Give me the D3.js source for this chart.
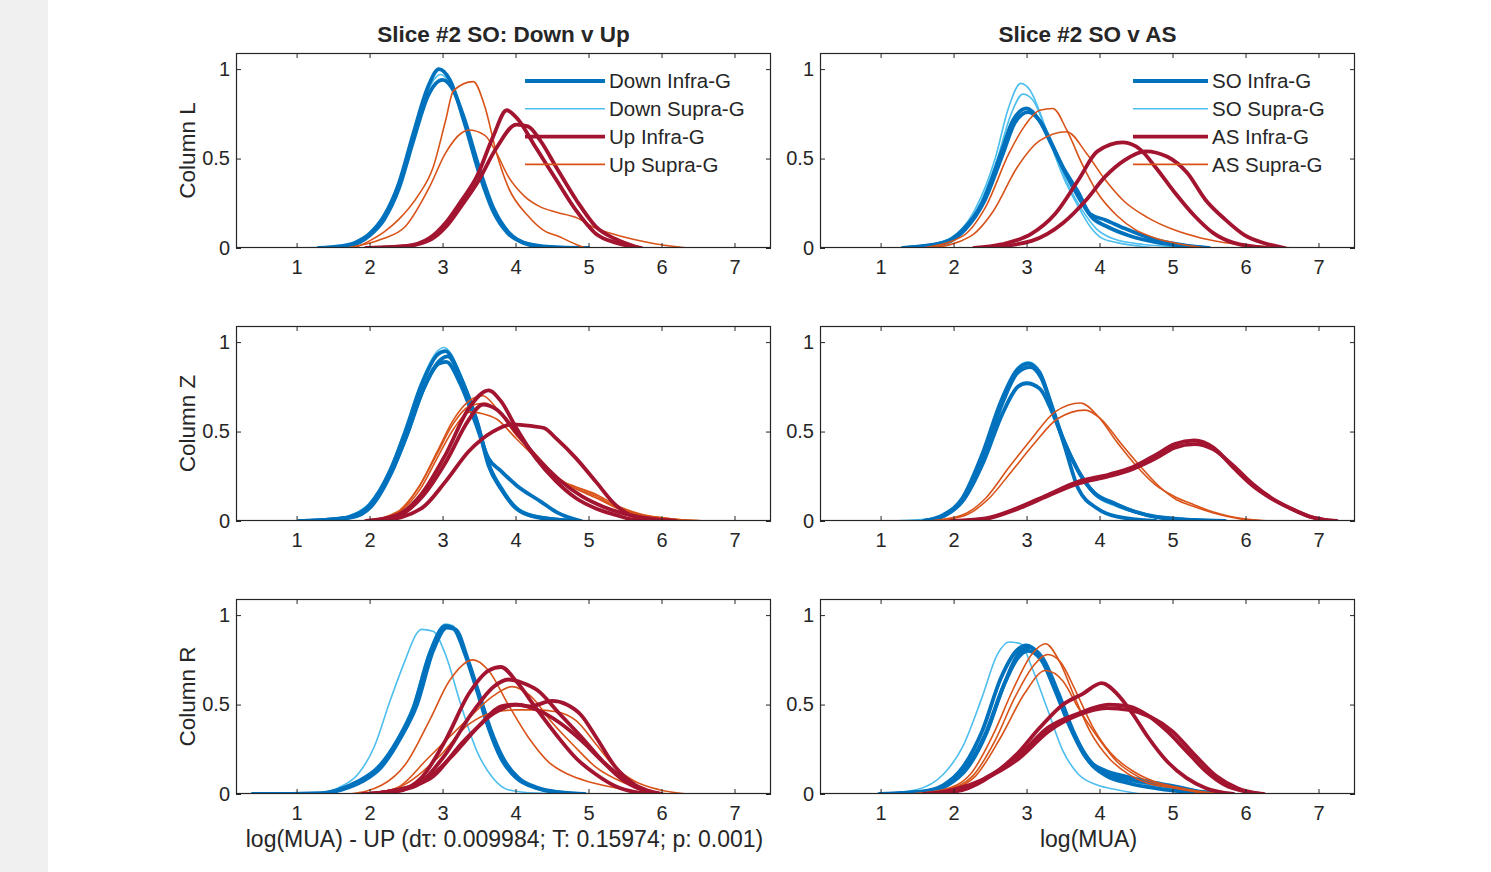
<!DOCTYPE html>
<html><head><meta charset="utf-8">
<script src="https://cdn.jsdelivr.net/npm/d3@7"></script>
<style>body{margin:0;background:#fff}svg{display:block}text{font-family:"Liberation Sans",Arial,sans-serif;fill:#262626}</style>
</head><body><svg id="c" width="1491" height="872"></svg>
<script>
// ---------- data ----------
const colTitles = ["Slice #2 SO: Down v Up", "Slice #2 SO v AS"];
const rowLabels = ["Column L", "Column Z", "Column R"];
const xLabels = ["log(MUA) - UP (d\u03C4: 0.009984; T: 0.15974; p: 0.001)", "log(MUA)"];
const legendLeft = ["Down Infra-G", "Down Supra-G", "Up Infra-G", "Up Supra-G"];
const legendRight = ["SO Infra-G", "SO Supra-G", "AS Infra-G", "AS Supra-G"];
const xTicks = [1, 2, 3, 4, 5, 6, 7];
const yTicks = [0, 0.5, 1];
// group index: 0 = Infra-G (first state), 1 = Supra-G (first), 2 = Infra-G (second), 3 = Supra-G (second)

const panelL_DvU = [
  {g:1, p:[[1.0,0],[1.5,0.005],[1.8,0.03],[2.0,0.08],[2.2,0.17],[2.4,0.35],[2.6,0.63],[2.8,0.88],[2.97,0.97],[3.1,0.92],[3.3,0.69],[3.5,0.42],[3.7,0.2],[3.9,0.08],[4.2,0.02],[4.6,0.004],[5.15,0]]},
  {g:0, p:[[1.3,0],[1.6,0.01],[1.8,0.03],[2.0,0.08],[2.2,0.18],[2.4,0.36],[2.6,0.64],[2.8,0.9],[2.95,1.0],[3.1,0.94],[3.3,0.7],[3.5,0.42],[3.7,0.2],[3.9,0.08],[4.1,0.03],[4.4,0.005],[4.8,0]]},
  {g:0, p:[[1.4,0],[1.7,0.01],[2.0,0.07],[2.2,0.16],[2.4,0.33],[2.6,0.6],[2.8,0.85],[3.0,0.94],[3.15,0.88],[3.3,0.72],[3.5,0.45],[3.7,0.22],[3.9,0.09],[4.2,0.02],[4.6,0.003],[5.0,0]]},
  {g:3, p:[[1.79,0],[2.0,0.04],[2.2,0.09],[2.4,0.16],[2.66,0.29],[2.87,0.45],[3.04,0.71],[3.15,0.88],[3.42,0.93],[3.58,0.79],[3.74,0.53],[3.9,0.34],[4.17,0.18],[4.42,0.09],[4.56,0.07],[4.83,0.02],[4.96,0]]},
  {g:3, p:[[1.68,0],[2.17,0.05],[2.49,0.12],[2.82,0.34],[3.04,0.53],[3.25,0.64],[3.36,0.66],[3.58,0.63],[3.74,0.53],[3.9,0.40],[4.12,0.29],[4.34,0.23],[4.56,0.2],[4.83,0.17],[5.1,0.11],[5.37,0.074],[5.64,0.046],[5.91,0.024],[6.35,0]]},
  {g:2, p:[[1.95,0],[2.49,0.01],[2.82,0.055],[3.04,0.14],[3.25,0.26],[3.47,0.40],[3.69,0.62],[3.88,0.77],[4.01,0.73],[4.28,0.56],[4.56,0.38],[4.83,0.21],[5.1,0.08],[5.37,0.03],[5.72,0]]},
  {g:2, p:[[2.0,0],[2.5,0.01],[2.85,0.05],[3.05,0.12],[3.25,0.23],[3.47,0.36],[3.74,0.56],[4.01,0.69],[4.17,0.68],[4.34,0.6],[4.56,0.45],[4.83,0.27],[5.1,0.12],[5.37,0.05],[5.7,0]]}
];
const panelL_SvA = [
  {g:1, p:[[1.3,0],[1.8,0.03],[2.1,0.1],[2.3,0.22],[2.57,0.5],[2.75,0.78],[2.92,0.92],[3.05,0.88],[3.2,0.74],[3.35,0.56],[3.5,0.4],[3.71,0.23],[3.87,0.12],[4.03,0.055],[4.24,0.03],[4.56,0.01],[4.77,0]]},
  {g:1, p:[[1.3,0],[1.8,0.03],[2.1,0.09],[2.3,0.2],[2.6,0.5],[2.78,0.74],[2.95,0.86],[3.08,0.83],[3.25,0.68],[3.4,0.52],[3.55,0.37],[3.75,0.22],[3.95,0.11],[4.2,0.05],[4.6,0.02],[5.2,0.005],[5.7,0]]},
  {g:0, p:[[1.3,0],[1.86,0.03],[2.12,0.1],[2.39,0.25],[2.65,0.53],[2.81,0.71],[3.0,0.78],[3.18,0.71],[3.34,0.58],[3.5,0.45],[3.71,0.31],[3.87,0.19],[4.08,0.157],[4.34,0.11],[4.77,0.046],[5.08,0.02],[5.45,0]]},
  {g:0, p:[[1.35,0],[1.9,0.03],[2.15,0.1],[2.42,0.26],[2.67,0.52],[2.84,0.7],[3.02,0.76],[3.2,0.7],[3.36,0.57],[3.52,0.43],[3.72,0.28],[3.9,0.17],[4.1,0.12],[4.4,0.07],[4.8,0.03],[5.2,0.01],[5.5,0]]},
  {g:3, p:[[1.57,0],[2.12,0.065],[2.44,0.23],[2.76,0.53],[2.97,0.68],[3.18,0.77],[3.36,0.78],[3.55,0.66],[3.76,0.47],[3.97,0.31],[4.24,0.18],[4.5,0.1],[4.77,0.055],[5.08,0.024],[5.45,0]]},
  {g:3, p:[[1.7,0],[2.23,0.065],[2.55,0.21],[2.87,0.45],[3.18,0.6],[3.55,0.65],[3.82,0.53],[4.08,0.38],[4.34,0.26],[4.66,0.17],[5.03,0.1],[5.4,0.055],[5.83,0.024],[6.67,0]]},
  {g:2, p:[[2.28,0],[2.65,0.02],[3.07,0.08],[3.39,0.19],[3.71,0.38],[3.97,0.54],[4.32,0.59],[4.56,0.55],[4.77,0.45],[5.03,0.31],[5.3,0.18],[5.56,0.083],[5.83,0.03],[6.3,0]]},
  {g:2, p:[[2.44,0],[3.07,0.04],[3.5,0.14],[3.82,0.27],[4.08,0.4],[4.34,0.49],[4.63,0.54],[4.93,0.51],[5.2,0.42],[5.45,0.27],[5.72,0.16],[5.98,0.074],[6.25,0.028],[6.54,0]]}
];
const panelZ_DvU = [
  {g:1, p:[[1.0,0],[1.5,0.01],[1.73,0.03],[2.0,0.1],[2.28,0.29],[2.49,0.52],[2.71,0.78],[2.93,0.95],[3.02,0.97],[3.25,0.82],[3.47,0.57],[3.63,0.33],[3.8,0.2],[4.01,0.08],[4.28,0.03],[4.7,0.005],[5.05,0]]},
  {g:0, p:[[1.03,0],[1.5,0.008],[1.73,0.024],[2.0,0.09],[2.28,0.28],[2.49,0.5],[2.71,0.76],[2.93,0.93],[3.04,0.95],[3.25,0.8],[3.47,0.56],[3.63,0.31],[3.8,0.18],[4.01,0.07],[4.28,0.024],[4.83,0]]},
  {g:0, p:[[1.1,0],[1.73,0.02],[2.0,0.08],[2.28,0.26],[2.5,0.47],[2.72,0.72],[2.95,0.88],[3.05,0.89],[3.25,0.76],[3.45,0.55],[3.63,0.35],[3.8,0.28],[4.01,0.2],[4.34,0.11],[4.56,0.05],[4.9,0]]},
  {g:0, p:[[1.1,0],[1.75,0.02],[2.02,0.08],[2.3,0.27],[2.52,0.49],[2.74,0.74],[2.97,0.9],[3.07,0.92],[3.27,0.78],[3.48,0.54],[3.65,0.3],[3.82,0.17],[4.03,0.065],[4.3,0.02],[4.85,0]]},
  {g:3, p:[[1.95,0],[2.38,0.05],[2.66,0.18],[2.93,0.39],[3.14,0.56],[3.36,0.67],[3.55,0.7],[3.74,0.63],[4.01,0.48],[4.28,0.37],[4.56,0.24],[4.83,0.18],[5.1,0.14],[5.37,0.08],[5.64,0.043],[6.18,0.01],[6.73,0]]},
  {g:3, p:[[2.0,0],[2.4,0.05],[2.68,0.17],[2.95,0.37],[3.16,0.52],[3.38,0.61],[3.55,0.6],[3.74,0.57],[4.01,0.46],[4.28,0.35],[4.56,0.24],[4.83,0.19],[5.1,0.15],[5.37,0.09],[5.7,0.04],[6.2,0.01],[6.6,0]]},
  {g:3, p:[[1.95,0],[2.38,0.05],[2.66,0.18],[2.93,0.38],[3.14,0.54],[3.36,0.64],[3.58,0.66],[3.8,0.6],[4.05,0.47],[4.3,0.36],[4.56,0.25],[4.83,0.18],[5.1,0.13],[5.4,0.07],[5.8,0.025],[6.4,0]]},
  {g:2, p:[[1.95,0],[2.38,0.034],[2.71,0.15],[3.04,0.37],[3.36,0.63],[3.63,0.73],[3.8,0.67],[4.01,0.52],[4.28,0.35],[4.56,0.22],[4.83,0.127],[5.1,0.07],[5.37,0.034],[5.64,0.006],[5.91,0]]},
  {g:2, p:[[2.0,0],[2.4,0.03],[2.73,0.14],[3.06,0.34],[3.35,0.56],[3.55,0.65],[3.75,0.62],[4.0,0.5],[4.3,0.35],[4.6,0.23],[4.9,0.14],[5.2,0.08],[5.5,0.04],[5.9,0.01],[6.2,0]]},
  {g:2, p:[[2.17,0],[2.71,0.07],[3.04,0.22],[3.36,0.39],[3.69,0.5],[3.96,0.54],[4.23,0.53],[4.39,0.52],[4.56,0.46],[4.83,0.35],[5.1,0.22],[5.37,0.09],[5.64,0.024],[6.18,0]]}
];
const panelZ_SvA = [
  {g:1, p:[[1.06,0],[1.6,0.01],[1.86,0.035],[2.12,0.13],[2.39,0.37],[2.65,0.67],[2.86,0.85],[3.02,0.89],[3.18,0.84],[3.34,0.66],[3.5,0.46],[3.71,0.27],[3.92,0.15],[4.24,0.08],[4.5,0.045],[4.77,0.02],[5.3,0.005],[6.1,0]]},
  {g:0, p:[[1.59,0],[1.86,0.034],[2.12,0.127],[2.39,0.37],[2.65,0.67],[2.86,0.84],[3.02,0.88],[3.18,0.83],[3.34,0.65],[3.5,0.46],[3.71,0.28],[3.92,0.16],[4.24,0.09],[4.5,0.05],[4.77,0.024],[5.3,0.006],[5.72,0]]},
  {g:0, p:[[1.6,0],[1.88,0.033],[2.14,0.125],[2.41,0.36],[2.67,0.66],[2.88,0.83],[3.05,0.86],[3.2,0.8],[3.36,0.62],[3.52,0.42],[3.71,0.18],[3.97,0.07],[4.24,0.024],[4.77,0]]},
  {g:0, p:[[1.6,0],[1.88,0.03],[2.14,0.12],[2.41,0.33],[2.67,0.6],[2.88,0.75],[3.0,0.77],[3.18,0.74],[3.36,0.6],[3.52,0.44],[3.72,0.27],[3.92,0.16],[4.2,0.1],[4.5,0.05],[4.8,0.02],[5.5,0]]},
  {g:3, p:[[1.65,0],[2.12,0.034],[2.44,0.127],[2.76,0.3],[3.07,0.46],[3.39,0.61],[3.74,0.66],[3.97,0.59],[4.24,0.44],[4.5,0.31],[4.77,0.2],[5.03,0.136],[5.3,0.09],[5.56,0.05],[5.93,0.015],[6.35,0]]},
  {g:3, p:[[1.7,0],[2.15,0.03],[2.47,0.12],[2.8,0.28],[3.1,0.43],[3.42,0.57],[3.8,0.62],[4.02,0.57],[4.28,0.44],[4.55,0.31],[4.8,0.2],[5.05,0.12],[5.3,0.08],[5.56,0.045],[5.93,0.012],[6.3,0]]},
  {g:2, p:[[1.96,0],[2.44,0.015],[2.86,0.07],[3.29,0.146],[3.71,0.22],[4.13,0.26],[4.45,0.3],[4.77,0.37],[5.03,0.43],[5.3,0.45],[5.56,0.41],[5.83,0.3],[6.09,0.2],[6.35,0.127],[6.62,0.07],[6.88,0.024],[7.25,0]]},
  {g:2, p:[[2.0,0],[2.44,0.012],[2.86,0.065],[3.29,0.14],[3.71,0.21],[4.13,0.25],[4.45,0.29],[4.77,0.35],[5.03,0.41],[5.3,0.43],[5.56,0.4],[5.83,0.31],[6.09,0.21],[6.35,0.13],[6.62,0.07],[6.88,0.025],[7.2,0]]}
];
const panelR_DvU = [
  {g:1, p:[[1.0,0],[1.3,0.005],[1.57,0.034],[1.84,0.11],[2.06,0.26],[2.28,0.52],[2.49,0.75],[2.65,0.9],[2.71,0.92],[2.87,0.91],[3.04,0.78],[3.25,0.5],[3.47,0.24],[3.69,0.09],[3.9,0.024],[4.28,0.005],[5.15,0]]},
  {g:1, p:[[0.5,0],[1.3,0.004],[1.57,0.024],[1.84,0.07],[2.11,0.15],[2.38,0.31],[2.6,0.5],[2.82,0.8],[3.04,0.95],[3.14,0.94],[3.31,0.78],[3.47,0.57],[3.63,0.36],[3.8,0.19],[4.01,0.085],[4.28,0.03],[4.6,0.008],[5.15,0]]},
  {g:0, p:[[0.4,0],[1.3,0.004],[1.57,0.024],[1.84,0.07],[2.11,0.146],[2.38,0.3],[2.6,0.48],[2.82,0.78],[3.04,0.94],[3.14,0.93],[3.31,0.78],[3.47,0.58],[3.63,0.37],[3.8,0.2],[4.01,0.09],[4.28,0.034],[4.56,0.01],[4.88,0]]},
  {g:0, p:[[0.4,0],[1.35,0.004],[1.62,0.024],[1.9,0.07],[2.16,0.15],[2.42,0.31],[2.65,0.5],[2.87,0.8],[3.06,0.93],[3.18,0.92],[3.34,0.76],[3.5,0.56],[3.66,0.36],[3.83,0.2],[4.04,0.09],[4.3,0.035],[4.6,0.01],[4.95,0]]},
  {g:3, p:[[1.73,0],[2.17,0.05],[2.49,0.165],[2.82,0.41],[3.09,0.63],[3.42,0.75],[3.63,0.69],[3.9,0.5],[4.17,0.32],[4.45,0.18],[4.72,0.11],[4.99,0.07],[5.26,0.043],[5.64,0.015],[5.97,0]]},
  {g:3, p:[[1.9,0],[2.38,0.034],[2.93,0.2],[3.36,0.39],[3.74,0.46],[4.01,0.47],[4.28,0.47],[4.56,0.46],[4.83,0.41],[5.1,0.28],[5.37,0.146],[5.64,0.07],[5.97,0.024],[6.35,0]]},
  {g:3, p:[[2.0,0],[2.4,0.04],[2.8,0.2],[3.3,0.4],[3.7,0.55],[3.95,0.6],[4.2,0.55],[4.5,0.4],[4.8,0.27],[5.1,0.15],[5.5,0.06],[5.9,0.01],[6.1,0]]},
  {g:2, p:[[1.9,0],[2.38,0.015],[2.71,0.09],[3.04,0.3],[3.36,0.56],[3.63,0.69],[3.8,0.71],[4.01,0.63],[4.28,0.48],[4.56,0.33],[4.83,0.2],[5.1,0.11],[5.37,0.043],[5.64,0.01],[5.86,0]]},
  {g:2, p:[[2.0,0],[2.6,0.04],[3.0,0.2],[3.4,0.45],[3.7,0.6],[3.9,0.64],[4.1,0.62],[4.3,0.58],[4.6,0.45],[4.9,0.32],[5.2,0.18],[5.5,0.07],[5.8,0.015],[6.0,0]]},
  {g:2, p:[[2.0,0],[2.7,0.06],[3.1,0.2],[3.5,0.38],[3.8,0.49],[4.0,0.5],[4.2,0.49],[4.5,0.52],[4.7,0.5],[4.9,0.44],[5.1,0.32],[5.37,0.15],[5.64,0.05],[5.86,0]]},
  {g:2, p:[[2.0,0],[2.8,0.08],[3.3,0.3],[3.7,0.45],[4.0,0.5],[4.3,0.47],[4.6,0.4],[4.9,0.3],[5.2,0.18],[5.5,0.08],[5.8,0.02],[6.0,0]]}
];
const panelR_SvA = [
  {g:1, p:[[0.96,0],[1.49,0.024],[1.86,0.11],[2.12,0.26],[2.39,0.54],[2.6,0.78],[2.76,0.85],[2.92,0.84],[3.07,0.71],[3.29,0.47],[3.5,0.24],[3.71,0.11],[3.97,0.05],[4.24,0.024],[4.56,0]]},
  {g:1, p:[[1.0,0],[1.59,0.015],[1.86,0.05],[2.12,0.146],[2.39,0.35],[2.65,0.65],[2.86,0.8],[3.0,0.83],[3.18,0.77],[3.39,0.58],[3.6,0.37],[3.82,0.2],[4.08,0.12],[4.34,0.08],[4.66,0.05],[5.03,0.02],[5.35,0.006],[5.9,0]]},
  {g:0, p:[[0.98,0],[1.59,0.015],[1.86,0.05],[2.12,0.146],[2.39,0.35],[2.65,0.65],[2.86,0.8],[3.0,0.83],[3.18,0.77],[3.39,0.58],[3.6,0.37],[3.82,0.2],[4.08,0.13],[4.34,0.1],[4.66,0.07],[5.03,0.043],[5.35,0.015],[5.83,0]]},
  {g:0, p:[[1.0,0],[1.62,0.015],[1.9,0.05],[2.16,0.14],[2.43,0.33],[2.68,0.6],[2.88,0.76],[3.02,0.8],[3.2,0.75],[3.42,0.57],[3.62,0.36],[3.84,0.2],[4.1,0.11],[4.4,0.08],[4.7,0.06],[5.05,0.035],[5.4,0.01],[5.7,0]]},
  {g:0, p:[[1.1,0],[1.65,0.015],[1.92,0.05],[2.18,0.14],[2.45,0.34],[2.7,0.62],[2.9,0.79],[3.04,0.82],[3.22,0.76],[3.44,0.56],[3.64,0.35],[3.86,0.18],[4.1,0.1],[4.4,0.06],[4.8,0.03],[5.3,0.008],[5.6,0]]},
  {g:3, p:[[1.38,0],[1.86,0.024],[2.23,0.11],[2.54,0.33],[2.81,0.58],[3.07,0.78],[3.26,0.84],[3.44,0.75],[3.66,0.54],[3.87,0.35],[4.13,0.2],[4.4,0.11],[4.66,0.06],[5.03,0.034],[5.45,0.006],[5.83,0]]},
  {g:3, p:[[1.4,0],[1.9,0.024],[2.26,0.1],[2.57,0.3],[2.84,0.54],[3.1,0.72],[3.29,0.78],[3.46,0.74],[3.68,0.57],[3.9,0.38],[4.15,0.23],[4.45,0.13],[4.75,0.07],[5.1,0.035],[5.5,0.008],[5.9,0]]},
  {g:3, p:[[1.45,0],[1.95,0.024],[2.3,0.1],[2.65,0.32],[2.97,0.56],[3.26,0.69],[3.5,0.63],[3.71,0.48],[3.97,0.32],[4.24,0.18],[4.56,0.09],[5.03,0.034],[5.56,0]]},
  {g:2, p:[[1.59,0],[2.12,0.024],[2.54,0.11],[2.86,0.22],[3.18,0.37],[3.5,0.5],[3.77,0.56],[4.03,0.62],[4.24,0.56],[4.45,0.45],[4.66,0.32],[4.93,0.18],[5.19,0.09],[5.45,0.034],[5.83,0]]},
  {g:2, p:[[1.6,0],[2.1,0.02],[2.44,0.09],[2.86,0.2],[3.29,0.37],[3.71,0.45],[4.13,0.5],[4.4,0.49],[4.66,0.44],[4.93,0.35],[5.19,0.24],[5.45,0.13],[5.72,0.05],[5.98,0.015],[6.25,0]]},
  {g:2, p:[[1.7,0],[2.4,0.08],[2.9,0.2],[3.3,0.35],[3.7,0.44],[4.1,0.48],[4.4,0.47],[4.7,0.43],[5.0,0.35],[5.3,0.22],[5.6,0.1],[5.9,0.03],[6.2,0]]}
];

// ---------- styles / layout ----------
const groupColor = ["#0072BD", "#4DBEEE", "#A2142F", "#D95319"];
const groupWidth = [3.8, 1.6, 3.8, 1.6];
const drawOrder = [1, 0, 3, 2];
const colX = [236, 820], axW = 535;
const rowY = [53, 326, 599], axH = 195;
const ink = "#262626";
const FONT = '"Liberation Sans", Arial, sans-serif';

const svg = d3.select("#c");
svg.append("rect").attr("x", 0).attr("y", 0).attr("width", 1491).attr("height", 872).attr("fill", "#fff");
svg.append("rect").attr("x", 0).attr("y", 0).attr("width", 48).attr("height", 872).attr("fill", "#f0f0f0");

const panels = [[panelL_DvU, panelL_SvA], [panelZ_DvU, panelZ_SvA], [panelR_DvU, panelR_SvA]];

panels.forEach((row, r) => row.forEach((curves, c) => {
  const x0 = colX[c], y0 = rowY[r];
  const x = d3.scaleLinear().domain([0.17, 7.5]).range([x0, x0 + axW]);
  const y = d3.scaleLinear().domain([0, 1.09]).range([y0 + axH, y0]);
  const g = svg.append("g");
  const clipId = "clip" + r + c;
  g.append("clipPath").attr("id", clipId).append("rect")
    .attr("x", x0).attr("y", y0).attr("width", axW).attr("height", axH);

  const line = d3.line().x(d => x(d[0])).y(d => y(d[1])).curve(d3.curveMonotoneX);
  const plot = g.append("g").attr("clip-path", `url(#${clipId})`);
  drawOrder.forEach(gi => {
    curves.filter(cv => cv.g === gi).forEach(cv => {
      plot.append("path").attr("d", line(cv.p)).attr("fill", "none")
        .attr("stroke", groupColor[gi]).attr("stroke-width", groupWidth[gi])
        .attr("stroke-linejoin", "round").attr("stroke-linecap", "round");
    });
  });

  // axes (ticks inward, all four sides)
  const fmt = d => String(d);
  const axB = g.append("g").attr("transform", `translate(0,${y0 + axH})`)
    .call(d3.axisBottom(x).tickValues(xTicks).tickFormat(fmt).tickSizeInner(-5).tickSizeOuter(0).tickPadding(12));
  const axT = g.append("g").attr("transform", `translate(0,${y0})`)
    .call(d3.axisTop(x).tickValues(xTicks).tickFormat("").tickSizeInner(-5).tickSizeOuter(0));
  const axL = g.append("g").attr("transform", `translate(${x0},0)`)
    .call(d3.axisLeft(y).tickValues(yTicks).tickFormat(fmt).tickSizeInner(-5).tickSizeOuter(0).tickPadding(6));
  const axR = g.append("g").attr("transform", `translate(${x0 + axW},0)`)
    .call(d3.axisRight(y).tickValues(yTicks).tickFormat("").tickSizeInner(-5).tickSizeOuter(0));
  [axB, axT, axL, axR].forEach(a => {
    a.select(".domain").remove();
    a.selectAll("line").attr("stroke", ink);
    a.selectAll("text").attr("fill", ink).style("font-family", FONT).style("font-size", "20px");
  });
  g.append("rect").attr("x", x0 + 0.5).attr("y", y0 + 0.5).attr("width", axW - 1).attr("height", axH - 1)
    .attr("fill", "none").attr("stroke", ink).attr("stroke-width", 1.2);

  if (c === 0) {
    g.append("text").attr("transform", `translate(195,${y0 + axH / 2}) rotate(-90)`)
      .attr("text-anchor", "middle").style("font-size", "22.5px").text(rowLabels[r]);
  }
  if (r === 0) {
    g.append("text").attr("x", x0 + axW / 2).attr("y", 42).attr("text-anchor", "middle")
      .style("font-size", "22.5px").style("font-weight", "bold").attr("fill", "#000").text(colTitles[c]);
    const labels = c === 0 ? legendLeft : legendRight;
    const lx0 = c === 0 ? 525 : 1133, lx1 = c === 0 ? 605 : 1208;
    [0, 1, 2, 3].forEach(i => {
      const ly = 81 + i * 27.8;
      g.append("line").attr("x1", lx0).attr("x2", lx1).attr("y1", ly).attr("y2", ly)
        .attr("stroke", groupColor[i]).attr("stroke-width", groupWidth[i]);
      g.append("text").attr("x", lx1 + 4).attr("y", ly).attr("dy", "0.35em")
        .style("font-size", "20.5px").text(labels[i]);
    });
  }
  if (r === 2) {
    g.append("text").attr("x", x0 + axW / 2 + 1).attr("y", 847).attr("text-anchor", "middle")
      .style("font-size", "23px").text(xLabels[c]);
  }
}));
</script></body></html>
